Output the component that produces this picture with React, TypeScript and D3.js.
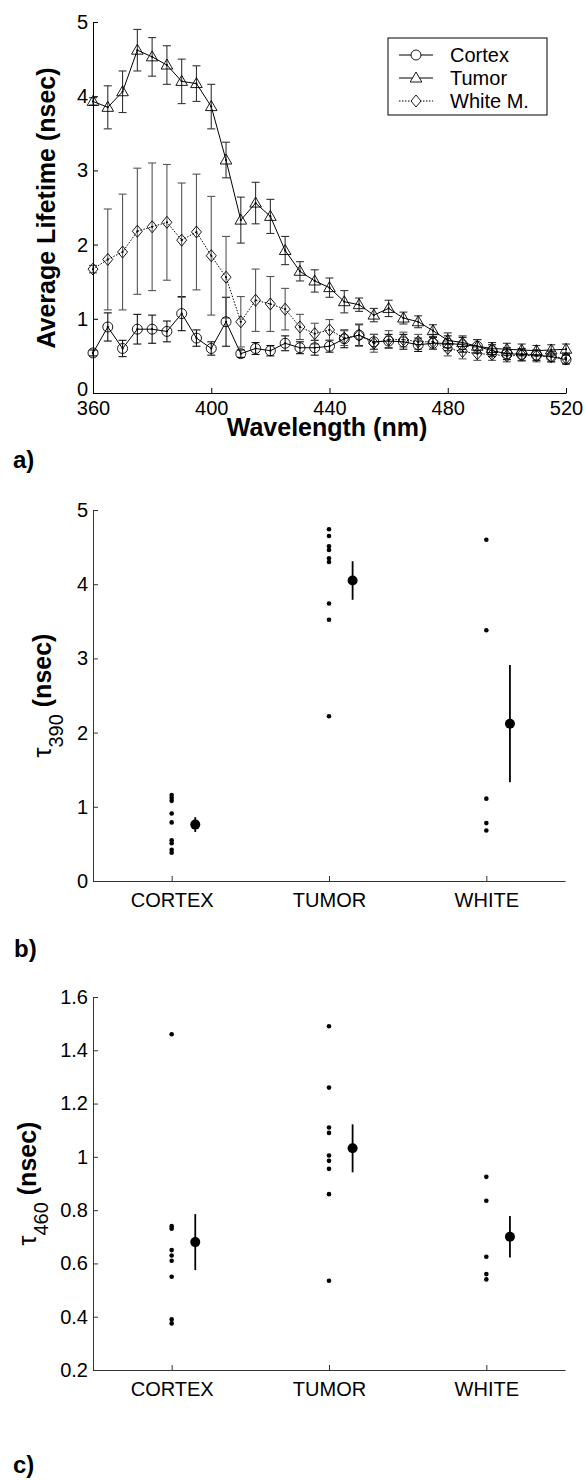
import { useEffect, useRef } from 'react';
import * as d3 from 'd3';

const FONT = '"Liberation Sans", Arial, Helvetica, sans-serif';

// panel a: average lifetime spectra
const wavelengths = [360, 365, 370, 375, 380, 385, 390, 395, 400, 405, 410, 415, 420, 425, 430, 435, 440,
  445, 450, 455, 460, 465, 470, 475, 480, 485, 490, 495, 500, 505, 510, 515, 520];

const cortexMean = [0.54, 0.89, 0.60, 0.86, 0.86, 0.83, 1.07, 0.74, 0.60, 0.96, 0.53, 0.60, 0.57, 0.67, 0.61, 0.61, 0.63,
  0.73, 0.78, 0.69, 0.70, 0.69, 0.65, 0.67, 0.67, 0.65, 0.63, 0.57, 0.53, 0.52, 0.51, 0.49, 0.45];
const cortexErr = [0.04, 0.19, 0.11, 0.20, 0.19, 0.14, 0.23, 0.11, 0.09, 0.33, 0.05, 0.08, 0.07, 0.10, 0.08, 0.10, 0.08,
  0.12, 0.14, 0.10, 0.09, 0.10, 0.09, 0.08, 0.10, 0.10, 0.09, 0.08, 0.08, 0.08, 0.07, 0.07, 0.06];

const tumorMean = [3.93, 3.85, 4.06, 4.62, 4.53, 4.42, 4.20, 4.17, 3.86, 3.14, 2.33, 2.56, 2.38, 1.92, 1.64, 1.51, 1.42,
  1.23, 1.19, 1.05, 1.14, 1.01, 0.96, 0.84, 0.71, 0.68, 0.63, 0.60, 0.59, 0.58, 0.57, 0.58, 0.59];
const tumorErr = [0.05, 0.29, 0.28, 0.28, 0.26, 0.26, 0.30, 0.24, 0.30, 0.24, 0.31, 0.28, 0.23, 0.19, 0.13, 0.15, 0.13,
  0.15, 0.09, 0.09, 0.11, 0.08, 0.08, 0.08, 0.10, 0.09, 0.09, 0.08, 0.08, 0.08, 0.07, 0.07, 0.07];

const whiteMean = [1.67, 1.80, 1.90, 2.18, 2.24, 2.30, 2.06, 2.17, 1.85, 1.56, 0.96, 1.25, 1.20, 1.13, 0.89, 0.80, 0.85,
  0.74, 0.78, 0.67, 0.72, 0.72, 0.69, 0.69, 0.60, 0.56, 0.53, 0.52, 0.50, 0.51, 0.50, 0.49, 0.47];
const whiteErr = [0.05, 0.68, 0.78, 0.85, 0.86, 0.78, 0.77, 0.78, 0.80, 0.55, 0.34, 0.42, 0.37, 0.28, 0.17, 0.14, 0.14,
  0.10, 0.15, 0.12, 0.12, 0.10, 0.10, 0.10, 0.10, 0.10, 0.09, 0.08, 0.08, 0.08, 0.08, 0.07, 0.07];

const spectraTicksX = [360, 400, 440, 480, 520];
const spectraTicksY = [0, 1, 2, 3, 4, 5];

// panels b and c: per-sample lifetimes
const groups = ['CORTEX', 'TUMOR', 'WHITE'];

const tau390Cortex = [1.16, 1.12, 1.08, 0.91, 0.79, 0.55, 0.51, 0.42, 0.38];
const tau390Tumor = [4.74, 4.65, 4.51, 4.46, 4.35, 4.30, 3.74, 3.52, 2.22];
const tau390White = [4.60, 3.38, 1.11, 0.78, 0.68];
const tau390Mean = [0.76, 4.05, 2.12];
const tau390Err = [0.10, 0.26, 0.79];
const tau390Ticks = [0, 1, 2, 3, 4, 5];

const tau460Cortex = [1.46, 0.74, 0.73, 0.65, 0.63, 0.61, 0.55, 0.39, 0.375];
const tau460Tumor = [1.49, 1.26, 1.11, 1.09, 1.005, 0.985, 0.955, 0.86, 0.535];
const tau460White = [0.925, 0.835, 0.625, 0.56, 0.54];
const tau460Mean = [0.68, 1.032, 0.70];
const tau460Err = [0.105, 0.09, 0.078];
const tau460Ticks = [0.2, 0.4, 0.6, 0.8, 1, 1.2, 1.4, 1.6];

const markerPath = (shape, cx, cy) => {
  if (shape === 'circle') {
    return `M${cx + 5},${cy}A5,5 0 1,1 ${cx - 5},${cy}A5,5 0 1,1 ${cx + 5},${cy}Z`;
  }
  if (shape === 'triangle') {
    return `M${cx},${cy - 6}L${cx + 5.8},${cy + 4}L${cx - 5.8},${cy + 4}Z`;
  }
  return `M${cx},${cy - 6}L${cx + 5},${cy}L${cx},${cy + 6}L${cx - 5},${cy}Z`;
};

const styleAxis = (g, color) => {
  g.selectAll('text').attr('font-family', FONT).attr('font-size', 20).attr('fill', '#000');
  g.selectAll('line').attr('stroke', color);
  g.select('.domain').attr('stroke', color);
};

const numFmt = d => String(+(+d).toFixed(1));

function drawSpectra(svg) {
  const x = d3.scaleLinear().domain([360, 520]).range([93, 566]);
  const y = d3.scaleLinear().domain([0, 5]).range([393, 22]);

  const series = [
    { name: 'Cortex', mean: cortexMean, err: cortexErr, shape: 'circle', dash: null, errColor: '#111' },
    { name: 'Tumor', mean: tumorMean, err: tumorErr, shape: 'triangle', dash: null, errColor: '#333' },
    { name: 'White M.', mean: whiteMean, err: whiteErr, shape: 'diamond', dash: '1.5,1.5', errColor: '#555' },
  ];

  const plot = svg.append('g');

  const line = d3.line().x(d => x(d[0])).y(d => y(d[1]));

  series.forEach(s => {
    const pts = wavelengths.map((w, i) => [w, s.mean[i]]);
    plot.append('path')
      .datum(pts)
      .attr('d', line)
      .attr('fill', 'none')
      .attr('stroke', '#000')
      .attr('stroke-width', 1)
      .attr('stroke-dasharray', s.dash);

    const eb = plot.append('g').attr('stroke', s.errColor).attr('stroke-width', 1.1);
    wavelengths.forEach((w, i) => {
      const cx = x(w);
      const top = y(s.mean[i] + s.err[i]);
      const bot = y(s.mean[i] - s.err[i]);
      eb.append('line').attr('x1', cx).attr('x2', cx).attr('y1', top).attr('y2', bot);
      eb.append('line').attr('x1', cx - 4).attr('x2', cx + 4).attr('y1', top).attr('y2', top);
      eb.append('line').attr('x1', cx - 4).attr('x2', cx + 4).attr('y1', bot).attr('y2', bot);
    });
  });

  series.forEach(s => {
    const mk = plot.append('g');
    wavelengths.forEach((w, i) => {
      mk.append('path')
        .attr('d', markerPath(s.shape, x(w), y(s.mean[i])))
        .attr('fill', 'none')
        .attr('stroke', '#000')
        .attr('stroke-width', 0.9);
      mk.append('circle').attr('cx', x(w)).attr('cy', y(s.mean[i])).attr('r', 1.1).attr('fill', '#000');
    });
  });

  const ax = svg.append('g')
    .attr('transform', 'translate(0,393)')
    .call(d3.axisBottom(x).tickValues(spectraTicksX).tickSizeInner(-5).tickSizeOuter(0).tickPadding(8));
  styleAxis(ax, '#000');

  const ay = svg.append('g')
    .attr('transform', 'translate(93,0)')
    .call(d3.axisLeft(y).tickValues(spectraTicksY).tickFormat(numFmt)
      .tickSizeInner(-5).tickSizeOuter(0).tickPadding(5));
  styleAxis(ay, '#000');
  // the zero label sits just above the 360 label, as in the original
  ay.selectAll('text').filter(d => d === 0).attr('dy', '0.1em');

  svg.append('text')
    .attr('transform', 'translate(55,208) rotate(-90)')
    .attr('text-anchor', 'middle')
    .attr('font-family', FONT)
    .attr('font-weight', 'bold')
    .attr('font-size', 25)
    .text('Average Lifetime (nsec)');

  svg.append('text')
    .attr('x', 327)
    .attr('y', 436)
    .attr('text-anchor', 'middle')
    .attr('font-family', FONT)
    .attr('font-weight', 'bold')
    .attr('font-size', 25)
    .text('Wavelength (nm)');

  // legend
  const lg = svg.append('g');
  lg.append('rect')
    .attr('x', 388).attr('y', 38).attr('width', 159).attr('height', 77)
    .attr('fill', '#fff').attr('stroke', '#000').attr('stroke-width', 1);
  const rows = [55, 78, 101];
  series.forEach((s, i) => {
    const ly = rows[i];
    lg.append('line')
      .attr('x1', 399).attr('x2', 433).attr('y1', ly).attr('y2', ly)
      .attr('stroke', '#000').attr('stroke-width', 1)
      .attr('stroke-dasharray', s.dash);
    lg.append('path')
      .attr('d', markerPath(s.shape, 416, ly))
      .attr('fill', '#fff').attr('stroke', '#000').attr('stroke-width', 0.9);
    lg.append('text')
      .attr('x', 450).attr('y', ly + 7)
      .attr('font-family', FONT).attr('font-size', 20)
      .text(s.name);
  });
}

function drawGroups(svg, opts) {
  const x = d3.scaleLinear().domain([0.5, 3.5]).range([93, 565]);
  const y = d3.scaleLinear().domain(opts.domain).range(opts.range);

  const ax = svg.append('g')
    .attr('transform', `translate(0,${opts.range[0]})`)
    .call(d3.axisBottom(x).tickValues([1, 2, 3]).tickFormat((d, i) => groups[i])
      .tickSizeInner(-5).tickSizeOuter(0).tickPadding(12));
  styleAxis(ax, '#333');

  const ay = svg.append('g')
    .attr('transform', 'translate(93,0)')
    .call(d3.axisLeft(y).tickValues(opts.ticks).tickFormat(numFmt)
      .tickSizeInner(-5).tickSizeOuter(0).tickPadding(5));
  styleAxis(ay, '#333');

  const g = svg.append('g');
  opts.samples.forEach((vals, gi) => {
    g.selectAll(null)
      .data(vals)
      .enter()
      .append('circle')
      .attr('cx', x(gi + 1))
      .attr('cy', d => y(d))
      .attr('r', 2.3)
      .attr('fill', '#000');
  });

  opts.mean.forEach((m, gi) => {
    const cx = x(gi + 1.15);
    g.append('line')
      .attr('x1', cx).attr('x2', cx)
      .attr('y1', y(m + opts.err[gi])).attr('y2', y(m - opts.err[gi]))
      .attr('stroke', '#000').attr('stroke-width', 1.8);
    g.append('circle').attr('cx', cx).attr('cy', y(m)).attr('r', 5).attr('fill', '#000');
  });

  const mid = (opts.range[0] + opts.range[1]) / 2;
  const lab = svg.append('text')
    .attr('transform', `translate(${opts.labelX},${mid}) rotate(-90)`)
    .attr('text-anchor', 'middle')
    .attr('font-family', FONT)
    .attr('font-size', 25);
  lab.append('tspan').text('τ');
  lab.append('tspan').attr('font-size', 20).attr('dy', 12).text(opts.sub);
  lab.append('tspan').attr('font-weight', 'bold').attr('dy', -12).text(' (nsec)');
}

const App = () => {
  const svgRef = useRef(null);

  useEffect(() => {
    const svg = d3.select(svgRef.current);
    svg.selectAll('*').remove();

    drawSpectra(svg);

    drawGroups(svg, {
      domain: [0, 5],
      range: [881, 510],
      ticks: tau390Ticks,
      samples: [tau390Cortex, tau390Tumor, tau390White],
      mean: tau390Mean,
      err: tau390Err,
      sub: '390',
      labelX: 51,
    });

    drawGroups(svg, {
      domain: [0.2, 1.6],
      range: [1370, 997],
      ticks: tau460Ticks,
      samples: [tau460Cortex, tau460Tumor, tau460White],
      mean: tau460Mean,
      err: tau460Err,
      sub: '460',
      labelX: 36,
    });

    const panelLabels = [['a)', 13, 468], ['b)', 14, 957], ['c)', 13, 1473]];
    panelLabels.forEach(([t, px, py]) => {
      svg.append('text')
        .attr('x', px).attr('y', py)
        .attr('font-family', FONT)
        .attr('font-weight', 'bold')
        .attr('font-size', 24)
        .text(t);
    });
  }, []);

  return (
    <svg
      ref={svgRef}
      width={586}
      height={1480}
      style={{ position: 'absolute', left: 0, top: 0, background: '#fff' }}
    />
  );
};

export default App;
